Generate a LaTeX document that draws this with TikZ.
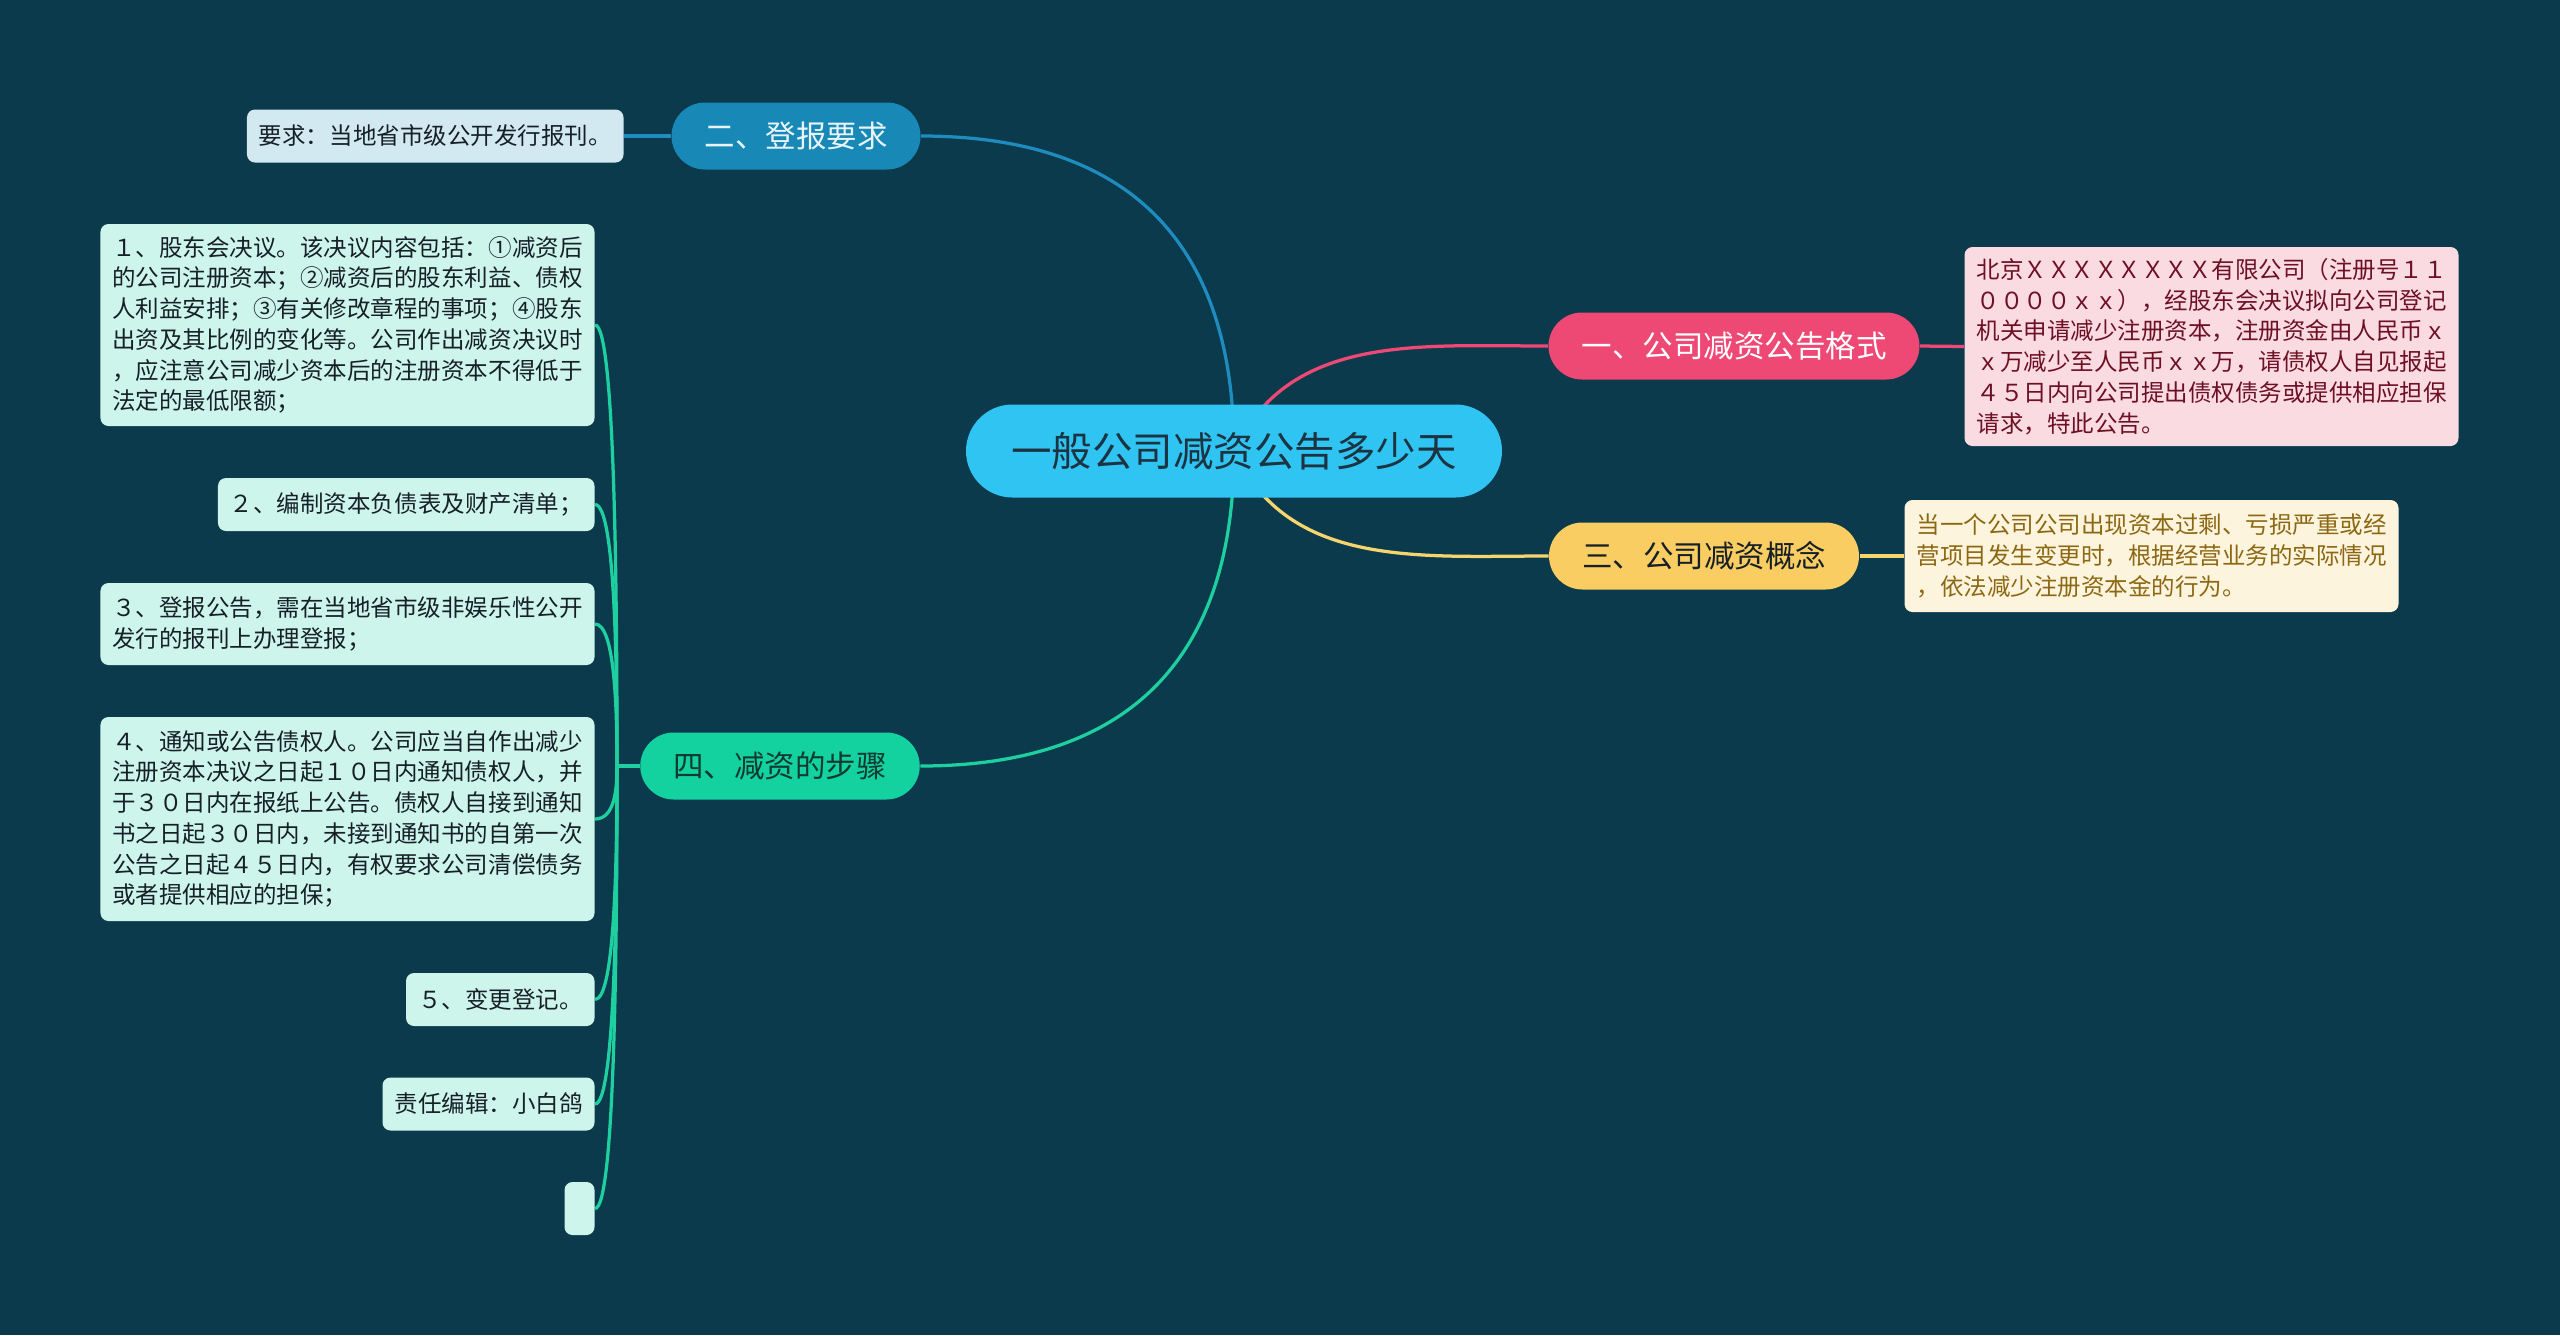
\documentclass[tikz,border=0pt]{standalone}
\usepackage{fontspec}
\setmainfont{Noto Sans CJK SC}
\usetikzlibrary{positioning}

\definecolor{bgcol}{RGB}{11,58,76}
\definecolor{rootfill}{RGB}{48,196,242}
\definecolor{roottext}{RGB}{28,52,66}
\definecolor{pinkbr}{RGB}{238,73,117}
\definecolor{pinkleaf}{RGB}{250,219,226}
\definecolor{pinktext}{RGB}{110,16,36}
\definecolor{yellowbr}{RGB}{249,205,98}
\definecolor{yellowline}{RGB}{246,212,110}
\definecolor{yellowleaf}{RGB}{253,244,222}
\definecolor{yellowtext}{RGB}{140,104,18}
\definecolor{bluebr}{RGB}{24,137,182}
\definecolor{blueline}{RGB}{30,140,190}
\definecolor{blueleaf}{RGB}{211,233,241}
\definecolor{greenbr}{RGB}{20,210,160}
\definecolor{greenline}{RGB}{30,208,160}
\definecolor{greenleaf}{RGB}{206,245,236}
\definecolor{darktext}{RGB}{22,32,38}

\pgfdeclarelayer{canvas}
\pgfdeclarelayer{edges}
\pgfsetlayers{canvas,edges,main}

\begin{document}
\begin{tikzpicture}[x=0.4pt,y=-0.4pt,
    rootbox/.style={fill=rootfill, text=roottext, rounded corners=18.6pt,
      minimum height=37.2pt, inner xsep=18.1pt, font=\fontsize{16.2pt}{19pt}\selectfont},
    branchbox/.style={rounded corners=13.4pt, minimum height=26.8pt,
      inner xsep=13.2pt, font=\fontsize{12.2pt}{15pt}\selectfont},
    leafbox/.style={rounded corners=3.2pt, inner xsep=4.8pt, inner ysep=2pt,
      align=left, font=\fontsize{9.4pt}{12.3pt}\selectfont},
    stepleaf/.style={leafbox, fill=greenleaf, text=darktext, anchor=east},
    link/.style={line width=1.3pt},
  ]
  % Background
  \begin{pgfonlayer}{canvas}
    \fill[bgcol] (0,0) rectangle (2560,1335);
  \end{pgfonlayer}

  % Root
  \node[rootbox] (root) at (1234,451) {一般公司减资公告多少天};

  % Right side branches
  \node[branchbox, fill=pinkbr, text=white] (format) at (1734,346) {一、公司减资公告格式};
  \node[leafbox, fill=pinkleaf, text=pinktext, minimum height=79.6pt, anchor=west]
    (formatnote) at (1964,346.5)
    {北京ＸＸＸＸＸＸＸＸ有限公司（注册号１１\\
     ００００ｘｘ），经股东会决议拟向公司登记\\
     机关申请减少注册资本，注册资金由人民币ｘ\\
     ｘ万减少至人民币ｘｘ万，请债权人自见报起\\
     ４５日内向公司提出债权债务或提供相应担保\\
     请求，特此公告。};

  \node[branchbox, fill=yellowbr, text=darktext] (concept) at (1704,556) {三、公司减资概念};
  \node[leafbox, fill=yellowleaf, text=yellowtext, minimum height=44.8pt, anchor=west]
    (conceptnote) at (1904,556)
    {当一个公司公司出现资本过剩、亏损严重或经\\
     营项目发生变更时，根据经营业务的实际情况\\
     ，依法减少注册资本金的行为。};

  % Left side branches
  \node[branchbox, fill=bluebr, text={rgb,255:red,232;green,244;blue,250}] (paper) at (796,136) {二、登报要求};
  \node[leafbox, fill=blueleaf, text=darktext, minimum height=21.2pt, anchor=east]
    (papernote) at (624,136) {要求：当地省市级公开发行报刊。};

  \node[branchbox, fill=greenbr, text={rgb,255:red,14;green,58;blue,48}] (steps) at (780,766) {四、减资的步骤};
  \coordinate (fork) at (617,766);

  \node[stepleaf, minimum height=80.8pt] (stepa) at (595,325)
    {１、股东会决议。该决议内容包括：①减资后\\
     的公司注册资本；②减资后的股东利益、债权\\
     人利益安排；③有关修改章程的事项；④股东\\
     出资及其比例的变化等。公司作出减资决议时\\
     ，应注意公司减少资本后的注册资本不得低于\\
     法定的最低限额；};
  \node[stepleaf, minimum height=21.2pt] (stepb) at (595,504.5) {２、编制资本负债表及财产清单；};
  \node[stepleaf, minimum height=32.8pt] (stepc) at (595,624)
    {３、登报公告，需在当地省市级非娱乐性公开\\
     发行的报刊上办理登报；};
  \node[stepleaf, minimum height=81.6pt] (stepd) at (595,819)
    {４、通知或公告债权人。公司应当自作出减少\\
     注册资本决议之日起１０日内通知债权人，并\\
     于３０日内在报纸上公告。债权人自接到通知\\
     书之日起３０日内，未接到通知书的自第一次\\
     公告之日起４５日内，有权要求公司清偿债务\\
     或者提供相应的担保；};
  \node[stepleaf, minimum height=21.2pt] (stepe) at (595,999.5) {５、变更登记。};
  \node[stepleaf, minimum height=21.2pt] (stepf) at (595,1104) {责任编辑：小白鸽};
  \node[stepleaf, minimum height=21.2pt, minimum width=12pt] (stepg) at (595,1208.5) {};

  % Connectors
  \begin{pgfonlayer}{edges}
    \draw[link, pinkbr] (root.center) to[out=65, in=180] (format.west);
    \draw[link, pinkbr] (format.east) -- (formatnote.west);
    \draw[link, yellowline] (root.center) to[out=-65, in=180] (concept.west);
    \draw[link, yellowline] (concept.east) -- (conceptnote.west);
    \draw[link, blueline] (root.center) to[out=90, in=0, looseness=1.2] (paper.east);
    \draw[link, blueline] (paper.west) -- (papernote.east);
    \draw[link, greenline] (root.center) to[out=-90, in=0, looseness=1.2] (steps.east);
    \draw[link, greenline] (steps.west) -- (fork);
    \foreach \leaf in {stepa,stepb,stepc}
      \draw[link, greenline] (fork) to[out=90, in=0, in max distance=8pt] (\leaf.east);
    \foreach \leaf in {stepd,stepe,stepf,stepg}
      \draw[link, greenline] (fork) to[out=-90, in=0, in max distance=8pt] (\leaf.east);
  \end{pgfonlayer}
\end{tikzpicture}
\end{document}
